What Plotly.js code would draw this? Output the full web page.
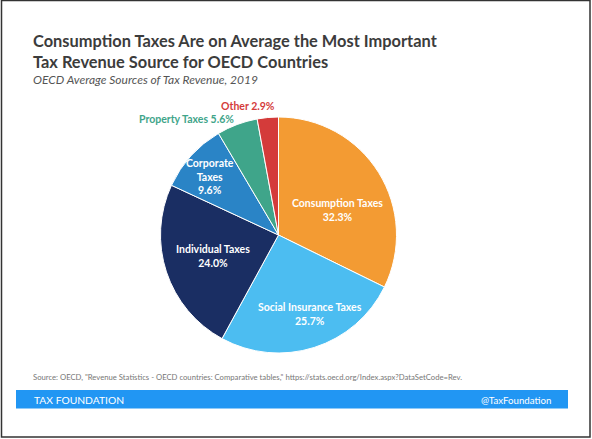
<!DOCTYPE html>
<html>
<head>
<meta charset="utf-8">
<script src="https://cdn.plot.ly/plotly-3.0.1.min.js"></script>
<style>html,body{margin:0;padding:0;background:#fff;}#chart{width:592px;height:439px;}</style>
</head>
<body>
<div id="chart"></div>
<script>
const categories = ["Consumption Taxes", "Social Insurance Taxes", "Individual Taxes", "Corporate Taxes", "Property Taxes", "Other"];
const displayNames = ["Consumption Taxes", "Social Insurance Taxes", "Individual Taxes", "Corporate<br>Taxes", "Property Taxes", "Other"];
const shares = [32.3, 25.7, 24.0, 9.6, 5.6, 2.9];
const sliceColors = ["#F39B33", "#4CBDF1", "#1A2E63", "#2A84C6", "#3FA58A", "#D43B3A"];

const W = 592, H = 439;
const px = x => x / W;
const py = y => 1 - y / H;

// label positions (pixels) & style
const labelPos = [[337, 210], [310, 314], [213, 256], [210, 177], [186, 119], [248, 106]];
const labelInside = [true, true, true, true, false, false];

const cx = 278.5, cy = 235, r = 118;

const annotations = [];
categories.forEach((c, i) => {
  const txt = labelInside[i]
    ? displayNames[i] + "<br>" + shares[i].toFixed(1) + "%"
    : displayNames[i] + " " + shares[i].toFixed(1) + "%";
  annotations.push({
    xref: "paper", yref: "paper", x: px(labelPos[i][0]), y: py(labelPos[i][1]),
    xanchor: "center", yanchor: "middle", showarrow: false, align: "center",
    text: "<b>" + txt + "</b>",
    font: {family: "Lato", size: 10.5, color: labelInside[i] ? "#ffffff" : sliceColors[i]}
  });
});

annotations.push(
  {xref: "paper", yref: "paper", x: px(31), y: py(51), xanchor: "left", yanchor: "middle", showarrow: false, align: "left",
   text: "<b>Consumption Taxes Are on Average the Most Important<br>Tax Revenue Source for OECD Countries</b>",
   font: {family: "Lato", size: 16.4, color: "#3c3c3c"}},
  {xref: "paper", yref: "paper", x: px(31), y: py(79.5), xanchor: "left", yanchor: "middle", showarrow: false,
   text: "<i>OECD Average Sources of Tax Revenue, 2019</i>", font: {family: "Lato", size: 12, color: "#555555"}},
  {xref: "paper", yref: "paper", x: px(31), y: py(377), xanchor: "left", yanchor: "middle", showarrow: false,
   text: "Source: OECD, \"Revenue Statistics - OECD countries: Comparative tables,\" https://stats.oecd.org/Index.aspx?DataSetCode=Rev.",
   font: {family: "Lato", size: 7.7, color: "#777777"}},
  {xref: "paper", yref: "paper", x: px(32), y: py(399.5), xanchor: "left", yanchor: "middle", showarrow: false,
   text: "TAX FOUNDATION", font: {family: "Lato", size: 10.3, color: "#ffffff"}},
  {xref: "paper", yref: "paper", x: px(553), y: py(399.5), xanchor: "right", yanchor: "middle", showarrow: false,
   text: "@TaxFoundation", font: {family: "Lato", size: 9.7, color: "#ffffff"}}
);

const data = [{
  type: "pie",
  labels: categories,
  values: shares,
  sort: false,
  direction: "clockwise",
  rotation: 0,
  textinfo: "none",
  hoverinfo: "label+percent",
  marker: {colors: sliceColors, line: {color: "#ffffff", width: 1}},
  domain: {x: [px(cx - r), px(cx + r)], y: [py(cy + r), py(cy - r)]},
  showlegend: false
}];

const layout = {
  width: W, height: H,
  margin: {l: 0, r: 0, t: 0, b: 0},
  paper_bgcolor: "#ffffff",
  showlegend: false,
  annotations: annotations,
  shapes: [
    {type: "rect", xref: "paper", yref: "paper", x0: px(16), x1: px(568), y0: py(408.5), y1: py(390), fillcolor: "#2196F3", line: {width: 0}, layer: "below"},
    {type: "rect", xref: "paper", yref: "paper", x0: px(1.5), x1: px(590), y0: py(437), y1: py(0.5), fillcolor: "rgba(0,0,0,0)", line: {color: "#333333", width: 1.5}}
  ]
};

Plotly.newPlot("chart", data, layout, {displayModeBar: false, staticPlot: true});
</script>
</body>
</html>
